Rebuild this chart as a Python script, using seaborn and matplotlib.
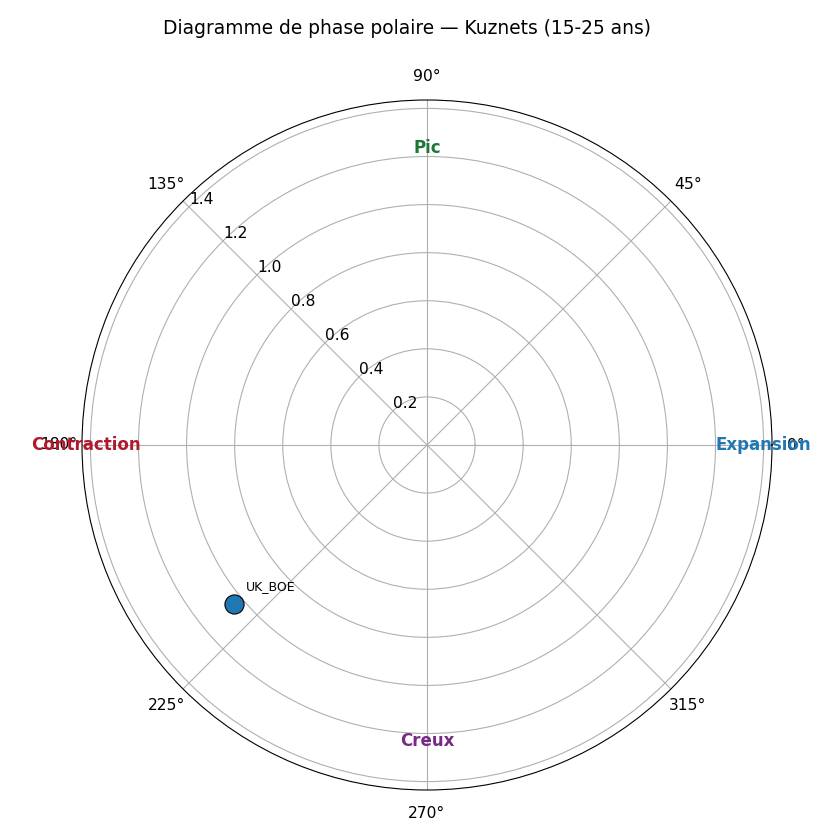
import matplotlib
matplotlib.use("Agg")
import matplotlib.pyplot as plt
import seaborn as sns
import numpy as np
import pandas as pd

# Data
series = ["UK_BOE"]
phase_deg = [219.5]
amplitude = [1.042]

phase_labels = ["Expansion", "Pic", "Contraction", "Creux"]
phase_label_deg = [0, 90, 180, 270]
phase_label_r = [1.4, 1.235, 1.42, 1.23]
phase_colors = ["#1f77b4", "#1b7837", "#b2182b", "#762a83"]

r_ticks = [0.2, 0.4, 0.6, 0.8, 1.0, 1.2, 1.4]
r_max = 1.435

df = pd.DataFrame({"serie": series,
                   "theta": np.deg2rad(phase_deg),
                   "r": amplitude})

fig = plt.figure(figsize=(8.4, 8.4), dpi=100)
ax = fig.add_axes([82 / 840, 50 / 840, 690 / 840, 690 / 840], projection="polar")

sns.scatterplot(data=df, x="theta", y="r", ax=ax, s=190, color="#1f77b4",
                edgecolor="black", linewidth=0.8, zorder=5, legend=False)
for _, row in df.iterrows():
    ax.annotate(row["serie"], (row["theta"], row["r"]), xytext=(9, 8),
                textcoords="offset points", fontsize=9, ha="left", va="bottom")

for lab, d, r, c in zip(phase_labels, phase_label_deg, phase_label_r, phase_colors):
    ax.text(np.deg2rad(d), r, lab, color=c, fontsize=12, fontweight="bold",
            ha="center", va="center")

ax.set_ylim(0, r_max)
ax.set_yticks(r_ticks)
ax.set_yticklabels([f"{t:.1f}" for t in r_ticks])
ax.set_rlabel_position(135)
ax.set_xlabel("")
ax.set_ylabel("")
ax.tick_params(labelsize=11.2)
ax.tick_params(axis="x", pad=6.5)
ax.grid(True, color="#b0b0b0")

fig.text(407 / 840, 1 - 28 / 840, "Diagramme de phase polaire — Kuznets (15-25 ans)",
         ha="center", va="center", fontsize=13.45)

fig.savefig("out.png", dpi=100)
